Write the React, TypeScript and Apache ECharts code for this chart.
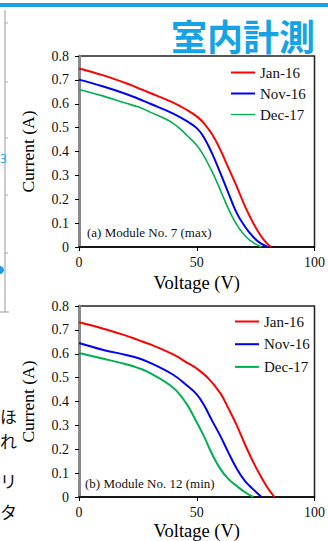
import React, { useEffect, useRef } from "react";
import * as echarts from "echarts";

const seriesNames = ["Jan-16", "Nov-16", "Dec-17"];
const seriesColors = ["#ff0000", "#0000ff", "#00b050"];

// Module No. 7 (max) — [Voltage (V), Current (A)]
const m7Jan16 = [[0,0.748],[10,0.72],[20,0.686],[25,0.666],[30,0.646],[40,0.605],[46,0.573],[50,0.547],[53,0.519],[56.5,0.472],[60,0.408],[63.5,0.33],[67,0.253],[70.5,0.17],[74,0.1],[77,0.05],[79.5,0.018],[81.6,0]];
const m7Nov16 = [[0,0.701],[10,0.673],[20,0.641],[25,0.622],[30,0.601],[40,0.559],[46,0.526],[50,0.498],[53,0.46],[56.5,0.392],[60,0.31],[63.5,0.225],[67,0.142],[70.5,0.085],[74,0.042],[77,0.016],[80.2,0]];
const m7Dec17 = [[0,0.66],[10,0.633],[20,0.602],[25,0.587],[30,0.566],[40,0.518],[46,0.466],[50,0.426],[53,0.382],[56,0.326],[59,0.262],[62,0.192],[65,0.128],[68,0.078],[71,0.042],[74,0.018],[77.5,0]];

// Module No. 12 (min)
const m12Jan16 = [[0,0.732],[10,0.706],[20,0.676],[25,0.658],[30,0.64],[40,0.597],[46,0.562],[50,0.538],[55,0.496],[60,0.435],[63.5,0.37],[67,0.3],[70.5,0.22],[74,0.146],[77,0.09],[80,0.04],[83,0]];
const m12Nov16 = [[0,0.645],[10,0.617],[20,0.595],[25,0.582],[30,0.563],[40,0.512],[46,0.466],[50,0.43],[53,0.386],[56.5,0.32],[60,0.256],[63.5,0.185],[67,0.118],[70.5,0.066],[74,0.032],[77.5,0]];
const m12Dec17 = [[0,0.603],[10,0.58],[20,0.556],[25,0.541],[30,0.52],[40,0.458],[45.5,0.393],[49,0.332],[53,0.256],[56.5,0.18],[60,0.118],[63.5,0.075],[67,0.046],[70.5,0.02],[74,0]];

const xTicks = { min: 0, max: 100, interval: 50 };
const yTicks = { min: 0, max: 0.8, interval: 0.1 };

const titleText = "室内計測";
const panelLabels = ["(a) Module No. 7 (max)", "(b) Module No. 12 (min)"];
const sideChars = ["ほ", "れ", "リ", "タ"];

const SERIF = "'Liberation Serif', 'Times New Roman', serif";
const LINE_ICON = "path://M0,0H24V2H0Z";
const THIN_ICON = "path://M0,0H24V1.3H0Z";

export default function App() {
  const ref = useRef<HTMLDivElement>(null);
  useEffect(() => {
    if (!ref.current) return;
    const chart = echarts.init(ref.current, null, { renderer: "svg" });
    const grids = [
      { left: 79, top: 56, width: 240, height: 191 },
      { left: 79, top: 306, width: 240, height: 192 },
    ];
    const mk = (gi: number, nameGap: number) => ({
      type: "value",
      gridIndex: gi,
      ...xTicks,
      name: "Voltage (V)",
      nameLocation: "middle",
      nameGap,
      nameTextStyle: { fontFamily: SERIF, fontSize: 18.5, color: "#000" },
      axisLine: { show: true, onZero: false, lineStyle: { color: "#000", width: 1.5 } },
      axisTick: { show: true, inside: false, length: 4, lineStyle: { color: "#000" } },
      axisLabel: { margin: 8, fontFamily: SERIF, fontSize: 14, color: "#111" },
      splitLine: { show: false },
    });
    const mky = (gi: number) => ({
      type: "value",
      gridIndex: gi,
      ...yTicks,
      name: "Current (A)",
      nameLocation: "middle",
      nameGap: 42,
      nameTextStyle: { fontFamily: SERIF, fontSize: 17.5, color: "#000" },
      axisLine: { show: true, onZero: false, lineStyle: { color: "#8a8a8a", width: 3 } },
      axisTick: { show: true, inside: false, length: 4, lineStyle: { color: "#000" } },
      axisLabel: { margin: 10, fontFamily: SERIF, fontSize: 14, color: "#111" },
      splitLine: { show: false },
    });
    const datasets = [
      [m7Jan16, m7Nov16, m7Dec17],
      [m12Jan16, m12Nov16, m12Dec17],
    ];
    const series: any[] = [];
    datasets.forEach((set, gi) => {
      set.forEach((d, si) => {
        series.push({
          type: "line",
          name: seriesNames[si],
          xAxisIndex: gi,
          yAxisIndex: gi,
          data: d,
          smooth: 0.4,
          symbol: "none",
          lineStyle: { color: seriesColors[si], width: gi === 0 && si === 2 ? 1.6 : 2 },
          itemStyle: { color: seriesColors[si] },
        });
      });
    });
    const graphic: any[] = [
      { type: "rect", shape: { x: 0, y: 3, width: 328, height: 4 }, style: { fill: "#1ba1e2" } },
      {
        type: "text",
        x: 315,
        y: 35,
        style: {
          text: titleText,
          align: "right",
          verticalAlign: "middle",
          font: "bold 36px 'Noto Sans CJK JP'",
          fill: "#14a3e6",
        },
      },
      { type: "text", x: 87, y: 232, style: { text: panelLabels[0], verticalAlign: "middle", font: `13px ${SERIF}`, fill: "#111" } },
      { type: "text", x: 85, y: 483, style: { text: panelLabels[1], verticalAlign: "middle", font: `13px ${SERIF}`, fill: "#111" } },
      // left cut-off decoration
      { type: "line", shape: { x1: 5, y1: 10, x2: 5, y2: 312 }, style: { stroke: "#999", lineWidth: 1 } },
      { type: "line", shape: { x1: 0, y1: 312, x2: 9, y2: 312 }, style: { stroke: "#999", lineWidth: 1 } },
      ...[23, 82, 138, 195, 253].map((y) => ({
        type: "line",
        shape: { x1: 5, y1: y, x2: 8, y2: y },
        style: { stroke: "#aaa", lineWidth: 1 },
      })),
      { type: "text", x: 0, y: 158, style: { text: "3", verticalAlign: "middle", font: "12px 'Noto Sans'", fill: "#29a8e8" } },
      { type: "circle", shape: { cx: 0, cy: 270, r: 4 }, style: { fill: "#1c9ee8" } },
      ...sideChars.map((c, i) => ({
        type: "text",
        x: 0,
        y: [415, 440, 480, 511][i],
        style: { text: c, verticalAlign: "middle", font: "17px 'Noto Sans CJK JP'", fill: "#111" },
      })),
    ];
    const legendBase = {
      orient: "vertical",
      itemWidth: 24,
      itemHeight: 14,
      symbolKeepAspect: true,
      textStyle: { fontFamily: SERIF, fontSize: 15, color: "#111" },
    };
    chart.setOption({
      animation: false,
      grid: grids.map((g) => ({ ...g, show: true, borderColor: "#222", borderWidth: 1.5, backgroundColor: "transparent" })),
      xAxis: [mk(0, 26), mk(1, 24)],
      yAxis: [mky(0), mky(1)],
      legend: [
        {
          ...legendBase,
          left: 226,
          top: 60,
          itemGap: 6,
          data: seriesNames.map((n, i) => ({ name: n, icon: i === 2 ? THIN_ICON : LINE_ICON })),
        },
        {
          ...legendBase,
          left: 230,
          top: 309,
          itemGap: 7.7,
          data: seriesNames.map((n) => ({ name: n, icon: LINE_ICON })),
        },
      ],
      graphic,
      series,
    });
    return () => chart.dispose();
  }, []);
  return <div ref={ref} style={{ position: "absolute", left: 0, top: 0, width: 328, height: 541 }} />;
}
